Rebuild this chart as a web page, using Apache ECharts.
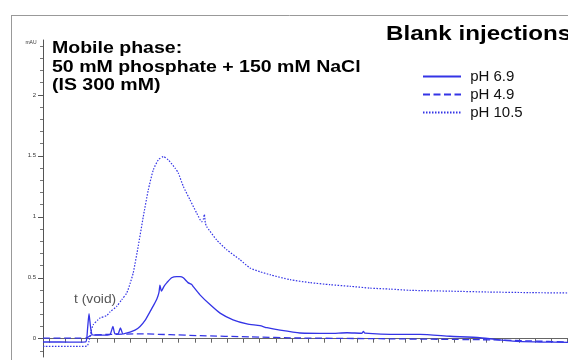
<!DOCTYPE html>
<html>
<head>
<meta charset="utf-8">
<script src="https://cdn.jsdelivr.net/npm/echarts@6/dist/echarts.min.js"></script>
<style>html,body{margin:0;padding:0;background:#fff;}#c{width:568px;height:360px;}</style>
</head>
<body>
<div id="c"></div>
<script>
// time axis (arbitrary minutes) and absorbance (mAU)
const seriesNames = ['pH 6.9', 'pH 4.9', 'pH 10.5'];
const yMajorTicks = [0, 0.5, 1, 1.5, 2];
const yMinorTicks = [-0.1, 0.1, 0.2, 0.3, 0.4, 0.6, 0.7, 0.8, 0.9, 1.1, 1.2, 1.3, 1.4, 1.6, 1.7, 1.8, 1.9, 2.1, 2.2, 2.3, 2.4];
const xTicks = [1,2,3,4,5,6,7,8,9,10,11,12,13,14,15,16,17,18,19,20,21,22,23,24,25,26,27,28,29,30,31,32,33];

const ph69_t = [0.63,1.68,2.91,3.28,3.38,3.47,3.56,3.65,3.84,4.15,4.46,4.77,4.95,5.07,5.26,5.41,5.57,6.0,6.31,6.62,6.93,7.23,7.48,7.67,7.79,7.85,7.94,8.10,8.28,8.57,8.88,9.09,9.29,9.58,9.81,9.89,10.32,10.94,11.56,12.36,13.22,14.02,14.46,15.26,16.49,18.35,19.40,20.32,20.41,20.5,22.67,23.9,25.75,27.6,29.64,31.31,33.04];
const ph69_v = [-0.027,-0.027,-0.028,-0.025,0.08,0.205,0.10,0.035,0.03,0.03,0.03,0.035,0.10,0.04,0.04,0.088,0.04,0.055,0.07,0.10,0.15,0.22,0.28,0.33,0.38,0.44,0.39,0.43,0.46,0.50,0.51,0.51,0.50,0.46,0.445,0.43,0.36,0.28,0.21,0.155,0.122,0.107,0.09,0.07,0.047,0.043,0.049,0.045,0.06,0.045,0.035,0.035,0.02,0.008,-0.02,-0.027,-0.03];

const ph49_t = [0.63,2.91,3.28,3.65,4.77,6.62,8.47,10.32,13.41,16.49,21.43,27.6,30.7,33.04];
const ph49_v = [0.005,0.005,0.005,0.03,0.035,0.04,0.033,0.025,0.015,0.006,0.0,-0.008,-0.018,-0.027];

const ph105_t = [0.63,2.91,3.35,3.47,3.6,3.73,4.02,4.15,4.56,4.77,5.18,5.49,5.80,6.0,6.20,6.51,6.82,7.13,7.44,7.75,8.06,8.36,8.78,8.98,9.29,9.70,10.12,10.43,10.54,10.59,10.65,10.73,11.35,11.97,12.79,13.41,14.02,14.64,15.88,17.11,18.35,19.58,20.81,22.05,23.28,25.75,28.1,30.69,33.04];
const ph105_v = [-0.063,-0.063,-0.06,-0.02,0.06,0.115,0.155,0.17,0.19,0.22,0.265,0.32,0.375,0.45,0.54,0.76,1.0,1.22,1.385,1.467,1.494,1.467,1.40,1.36,1.25,1.14,1.03,0.96,0.985,1.02,0.95,0.92,0.81,0.73,0.648,0.58,0.55,0.525,0.484,0.46,0.443,0.43,0.415,0.407,0.397,0.39,0.383,0.378,0.375];

function pairs(t, v) { return t.map((x, i) => [x, v[i]]); }

const blue = '#3434e6';
const FONT = '"Liberation Sans", Arial, sans-serif';
const chart = echarts.init(document.getElementById('c'), null, {renderer: 'canvas'});
chart.setOption({
  backgroundColor: '#fff',
  animation: false,
  grid: {left: 43, right: 0, top: 40, bottom: 3},
  legend: {
    orient: 'vertical', left: 422, top: 69, padding: 0, itemWidth: 38, itemHeight: 10, itemGap: 3,
    data: seriesNames,
    formatter: n => ' ' + n,
    itemStyle: {opacity: 0},
    textStyle: {fontFamily: FONT, fontSize: 15, color: '#111'}
  },
  xAxis: {
    type: 'value', min: 0.63, max: 33.04,
    axisLine: {lineStyle: {color: '#666', width: 1}},
    axisTick: {show: true, length: 4, inside: false, customValues: xTicks, lineStyle: {color: '#666'}},
    axisLabel: {show: false},
    splitLine: {show: false}
  },
  yAxis: [{
    type: 'value', min: -0.15, max: 2.45,
    axisLine: {show: true, lineStyle: {color: '#555', width: 1}},
    axisTick: {show: true, length: 5, customValues: yMajorTicks, lineStyle: {color: '#555'}},
    axisLabel: {show: true, customValues: yMajorTicks, fontSize: 6, color: '#333', fontFamily: FONT, margin: 7,
      formatter: v => String(v)},
    splitLine: {show: false}
  }, {
    type: 'value', min: -0.15, max: 2.45, position: 'left',
    axisLine: {show: false},
    axisTick: {show: true, length: 3, customValues: yMinorTicks, lineStyle: {color: '#777'}},
    axisLabel: {show: false},
    splitLine: {show: false}
  }],
  series: [
    {name: seriesNames[0], type: 'line', data: pairs(ph69_t, ph69_v), symbol: 'none', smooth: 0.2,
      lineStyle: {color: blue, width: 1.3, type: 'solid'}, itemStyle: {color: blue}},
    {name: seriesNames[1], type: 'line', data: pairs(ph49_t, ph49_v), symbol: 'none', smooth: 0.2,
      lineStyle: {color: blue, width: 1.3, type: [7, 3.5]}, itemStyle: {color: blue}},
    {name: seriesNames[2], type: 'line', data: pairs(ph105_t, ph105_v), symbol: 'none', smooth: 0.2,
      lineStyle: {color: blue, width: 1.2, type: [1.5, 1.5]}, itemStyle: {color: blue}}
  ],
  graphic: [
    {type: 'line', shape: {x1: 11, y1: 15.5, x2: 568, y2: 15.5}, style: {stroke: '#999', lineWidth: 1}},
    {type: 'line', shape: {x1: 11.5, y1: 15, x2: 11.5, y2: 360}, style: {stroke: '#999', lineWidth: 1}},
    {type: 'text', x: 52, y: 48.4, scaleX: 1.22, style: {text: 'Mobile phase:', font: 'bold 16px ' + FONT, fill: '#000', verticalAlign: 'middle'}},
    {type: 'text', x: 52, y: 67.7, scaleX: 1.22, style: {text: '50 mM phosphate + 150 mM NaCl', font: 'bold 16px ' + FONT, fill: '#000', verticalAlign: 'middle'}},
    {type: 'text', x: 52, y: 86, scaleX: 1.22, style: {text: '(IS 300 mM)', font: 'bold 16px ' + FONT, fill: '#000', verticalAlign: 'middle'}},
    {type: 'text', x: 386, y: 34.3, scaleX: 1.15, style: {text: 'Blank injections', font: 'bold 21px ' + FONT, fill: '#000', verticalAlign: 'middle'}},
    {type: 'text', x: 74, y: 300, scaleX: 1.15, style: {text: 't (void)', font: '12px ' + FONT, fill: '#555', verticalAlign: 'middle'}},
    {type: 'text', x: 36.5, y: 43, style: {text: 'mAU', font: '5px ' + FONT, fill: '#333', align: 'right', verticalAlign: 'middle'}}
  ]
});
</script>
</body>
</html>
